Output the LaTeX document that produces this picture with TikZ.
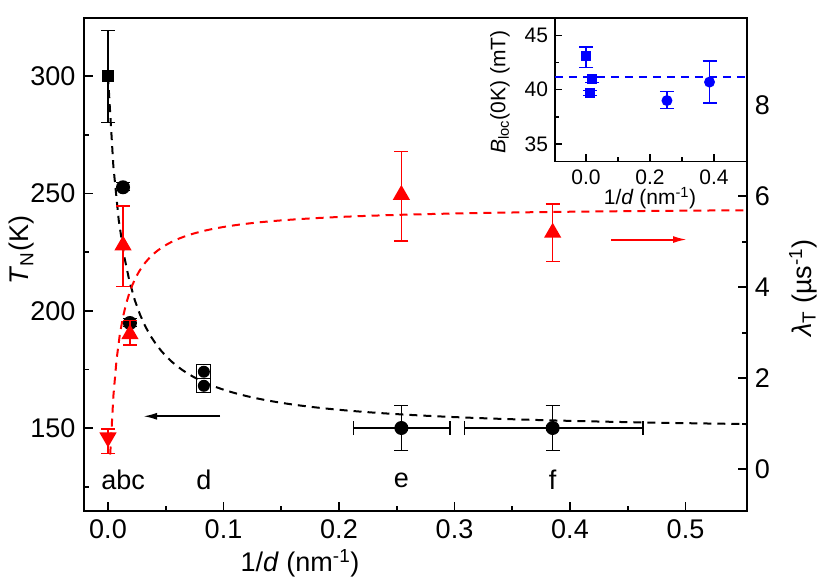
\documentclass[tikz,border=0pt]{standalone}
\usepackage{fontspec}
\setmainfont{Liberation Sans}
\usetikzlibrary{shapes.geometric,arrows.meta}

\tikzset{
  dot/.style={circle, fill, inner sep=0pt, minimum size=14pt},
  sqr/.style={rectangle, fill, inner sep=0pt, minimum size=12pt},
  tri/.style={regular polygon, regular polygon sides=3, fill, inner sep=0pt, minimum size=20pt},
  ebar/.style={line width=1.6pt, {Bar[width=14pt]}-{Bar[width=14pt]}},
  fitline/.style={dash pattern=on 8pt off 6pt, line width=2pt},
  big/.style={font=\fontsize{27}{29}\selectfont},
  small/.style={font=\fontsize{21}{23}\selectfont},
}

\begin{document}
\begin{tikzpicture}
\useasboundingbox (0,0) rectangle (830pt,579pt);

% left axis, T_N in K
\begin{scope}[x=1155pt, y=2.344pt, shift={(108pt,-200.6pt)}]
\draw [line width=2pt] (-0.021,114.7) rectangle (0.553,325);
\foreach \x/\t in {0/0.0, 0.1/0.1, 0.2/0.2, 0.3/0.3, 0.4/0.4, 0.5/0.5}
  \draw [line width=1.8pt] (\x,114.7) -- ++(0,9pt) node [big, pos=0, below=5pt] {\t};
\foreach \x in {0.05,0.15,...,0.5}
  \draw [line width=1.8pt] (\x,114.7) -- ++(0,5pt);
\foreach \k in {150,200,250,300}
  \draw [line width=1.8pt] (-0.021,\k) -- ++(9pt,0) node [big, pos=0, left=4pt] {\k};
\foreach \k in {125,175,225,275}
  \draw [line width=1.8pt] (-0.021,\k) -- ++(5pt,0);

\draw [fitline, black] plot [domain=0:0.553, samples=120] (\x, {148+2.088/(\x+0.01374)});

\draw [ebar] (0,280) -- (0,320);
\node [sqr] (a1) at (0,300) {};
\draw [ebar] (0.013,251) -- (0.013,255);
\node [dot] (b1) at (0.013,252.7) {};
\draw [ebar] (0.019,193) -- (0.019,197);
\node [dot] (c1) at (0.019,194.8) {};
\node [draw, line width=1.2pt, minimum size=14pt, inner sep=0pt] at (0.083,174) {};
\node [draw, line width=1.2pt, minimum size=14pt, inner sep=0pt] at (0.083,168) {};
\node [dot, minimum size=12pt] (d1) at (0.083,174) {};
\node [dot, minimum size=12pt] (d2) at (0.083,168) {};
\draw [ebar] (0.254,140) -- (0.254,160);
\draw [ebar] (0.212,150) -- (0.297,150);
\node [dot] (e1) at (0.254,150) {};
\draw [ebar] (0.385,140) -- (0.385,160);
\draw [ebar] (0.308,150) -- (0.464,150);
\node [dot] (f1) at (0.385,150) {};

\coordinate (lstart) at (0.097,155);
\coordinate (lend) at (0.0303,155);
\draw [-{Latex[length=14pt,width=7pt]}, line width=2pt] (lstart) -- (lend);

\node [big] (la) at (0.013,127.8) {abc};
\node [big] (ld) at (0.083,127.8) {d};
\node [big] (le) at (0.254,127.8) {e};
\node [big] (lf) at (0.385,127.8) {f};
\end{scope}

% right axis, lambda_T
\begin{scope}[x=1155pt, y=45.5pt, shift={(108pt,109.7pt)}]
\foreach \l in {0,2,4,6,8}
  \draw [line width=1.8pt] (0.553,\l) -- ++(-9pt,0) node [big, pos=0, right=4pt] {\l};
\foreach \l in {1,3,5,7,9}
  \draw [line width=1.8pt] (0.553,\l) -- ++(-5pt,0);

\draw [fitline, red] plot [domain=0.0019:0.553, samples=200] (\x, {5.78-0.0486/(\x+0.007)});

\draw [ebar, red] (0,0.33) -- (0,0.9);
\node [tri, red, rotate=180] (ra) at (0,0.70) {};
\draw [ebar, red] (0.013,4.0) -- (0.013,5.81);
\node [tri, red] (rb) at (0.013,4.92) {};
\draw [ebar, red] (0.019,2.71) -- (0.019,3.29);
\node [tri, red] (rc) at (0.019,2.97) {};
\draw [ebar, red] (0.254,5.0) -- (0.254,7.0);
\node [tri, red] (re) at (0.254,6.03) {};
\draw [ebar, red] (0.385,4.55) -- (0.385,5.85);
\node [tri, red] (rf) at (0.385,5.2) {};

\coordinate (rstart) at (0.4355,5.05);
\coordinate (rend) at (0.5013,5.05);
\draw [-{Latex[length=14pt,width=7pt]}, line width=2pt, red] (rstart) -- (rend);
\end{scope}

% inset, B_loc
\begin{scope}[x=320pt, y=10.89pt, shift={(586pt,53.7pt)}]
\fill [white] (-0.097,33.42) rectangle (0.5,46.5);
\draw [line width=1.6pt] (-0.097,46.61) -- (-0.097,33.42) -- (0.503,33.42);
\foreach \x/\t in {0/0.0, 0.2/0.2, 0.4/0.4}
  \draw [line width=1.4pt] (\x,33.42) -- ++(0,7pt) node [small, pos=0, below=4pt] {\t};
\foreach \x in {0.1,0.3}
  \draw [line width=1.4pt] (\x,33.42) -- ++(0,4pt);
\foreach \b in {35,40,45}
  \draw [line width=1.4pt] (-0.097,\b) -- ++(7pt,0) node [small, pos=0, left=3pt] {\b};
\foreach \b in {37.5,42.5}
  \draw [line width=1.4pt] (-0.097,\b) -- ++(4pt,0);

\draw [fitline, blue] (-0.097,41.15) -- (0.503,41.15);

\begin{scope}[blue]
\draw [ebar, line width=1.4pt] (0,42.0) -- (0,44.0);
\node [sqr, minimum size=10pt] (ia) at (0,43.05) {};
\draw [ebar, line width=1.4pt] (0.02,40.6) -- (0.02,41.3);
\node [sqr, minimum size=10pt] (ib) at (0.02,40.95) {};
\draw [ebar, line width=1.4pt] (0.013,39.4) -- (0.013,40.0);
\node [sqr, minimum size=10pt] (ic) at (0.013,39.7) {};
\draw [ebar, line width=1.4pt] (0.253,38.2) -- (0.253,39.9);
\node [dot, minimum size=11pt] (ie) at (0.253,39.0) {};
\draw [ebar, line width=1.4pt] (0.386,38.7) -- (0.386,42.7);
\node [dot, minimum size=11pt] (if) at (0.386,40.7) {};
\end{scope}
\end{scope}

% axis titles
\node [big] (xtitle) at (300pt,16pt) {1/\textit{d} (nm\textsuperscript{-1})};
\node [big, rotate=90] (ytitle) at (22pt,329pt) {\textit{T}\textsubscript{N}(K)};
\node [big, rotate=90] (rtitle) at (803pt,291pt) {\textit{λ}\textsubscript{T} (µs\textsuperscript{-1})};
\node [small, rotate=90] (ititle) at (500pt,487pt) {\textit{B}\textsubscript{loc}(0K) (mT)};
\node [small] (ixtitle) at (650pt,381pt) {1/\textit{d} (nm\textsuperscript{-1})};
\end{tikzpicture}
\end{document}
